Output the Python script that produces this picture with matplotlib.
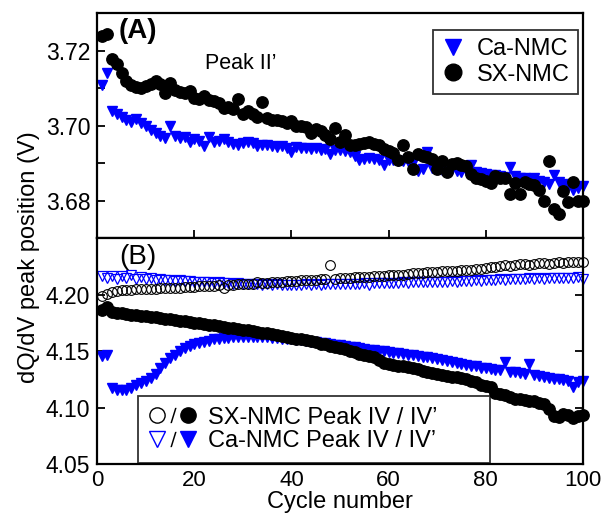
import matplotlib
matplotlib.use("Agg")
import matplotlib.pyplot as plt
from matplotlib.lines import Line2D
from matplotlib.legend_handler import HandlerTuple

plt.rcParams['font.family'] = ['Liberation Sans', 'DejaVu Sans']

cycles = list(range(1, 101))

# Panel A: Peak II'
sx_peak2 = [
    3.7240, 3.7245, 3.7178, 3.7165, 3.7140, 3.7118, 3.7108, 3.7103, 3.7100, 3.7106,
    3.7112, 3.7118, 3.7110, 3.7088, 3.7114, 3.7095, 3.7090, 3.7086, 3.7092, 3.7075,
    3.7072, 3.7080, 3.7068, 3.7066, 3.7060, 3.7047, 3.7050, 3.7045, 3.7070, 3.7030,
    3.7038, 3.7030, 3.7024, 3.7064, 3.7020, 3.7016, 3.7014, 3.7012, 3.7008, 3.7012,
    3.7000, 3.6998, 3.6996, 3.6980, 3.6990, 3.6985, 3.6975, 3.6965, 3.6995, 3.6958,
    3.6976, 3.6948, 3.6950, 3.6952, 3.6955, 3.6956, 3.6952, 3.6950, 3.6938, 3.6932,
    3.6928, 3.6908, 3.6950, 3.6916, 3.6886, 3.6926, 3.6920, 3.6916, 3.6911, 3.6886,
    3.6906, 3.6878, 3.6897, 3.6902, 3.6896, 3.6893, 3.6872, 3.6860, 3.6858, 3.6852,
    3.6848, 3.6866, 3.6860, 3.6862, 3.6818, 3.6848, 3.6818, 3.6849, 3.6846, 3.6843,
    3.6828, 3.6800, 3.6907, 3.6778, 3.6764, 3.6827, 3.6796, 3.6849, 3.6800, 3.6800]

ca_peak2 = [
    3.7108, 3.7141, 3.7040, 3.7032, 3.7022, 3.7016, 3.7009, 3.7018, 3.7008, 3.6998,
    3.6989, 3.6980, 3.6973, 3.6968, 3.7000, 3.6973, 3.6968, 3.6969, 3.6956, 3.6964,
    3.6960, 3.6945, 3.6969, 3.6958, 3.6960, 3.6964, 3.6958, 3.6952, 3.6950, 3.6954,
    3.6957, 3.6955, 3.6945, 3.6950, 3.6948, 3.6946, 3.6944, 3.6945, 3.6940, 3.6930,
    3.6944, 3.6942, 3.6940, 3.6938, 3.6941, 3.6936, 3.6938, 3.6926, 3.6936, 3.6935,
    3.6932, 3.6930, 3.6920, 3.6910, 3.6912, 3.6914, 3.6912, 3.6910, 3.6895, 3.6908,
    3.6910, 3.6907, 3.6905, 3.6906, 3.6900, 3.6880, 3.6886, 3.6930, 3.6888, 3.6885,
    3.6882, 3.6880, 3.6884, 3.6880, 3.6878, 3.6882, 3.6895, 3.6878, 3.6874, 3.6872,
    3.6870, 3.6868, 3.6866, 3.6864, 3.6890, 3.6866, 3.6860, 3.6862, 3.6858, 3.6860,
    3.6852, 3.6850, 3.6846, 3.6868, 3.6850, 3.6845, 3.6840, 3.6830, 3.6835, 3.6840]

# Panel B: Peak IV (open) and IV' (filled)
sx_peak4 = [
    4.1990, 4.2010, 4.2025, 4.2035, 4.2040, 4.2042, 4.2045, 4.2048, 4.2050, 4.2052,
    4.2054, 4.2056, 4.2058, 4.2060, 4.2062, 4.2063, 4.2065, 4.2068, 4.2070, 4.2072,
    4.2075, 4.2077, 4.2080, 4.2082, 4.2084, 4.2060, 4.2088, 4.2090, 4.2093, 4.2095,
    4.2098, 4.2100, 4.2110, 4.2105, 4.2108, 4.2112, 4.2115, 4.2117, 4.2120, 4.2122,
    4.2125, 4.2128, 4.2130, 4.2132, 4.2135, 4.2138, 4.2140, 4.2265, 4.2145, 4.2148,
    4.2150, 4.2152, 4.2155, 4.2160, 4.2158, 4.2162, 4.2165, 4.2168, 4.2170, 4.2172,
    4.2175, 4.2178, 4.2180, 4.2185, 4.2190, 4.2195, 4.2198, 4.2200, 4.2202, 4.2205,
    4.2208, 4.2210, 4.2212, 4.2215, 4.2218, 4.2222, 4.2225, 4.2228, 4.2232, 4.2238,
    4.2245, 4.2250, 4.2255, 4.2262, 4.2258, 4.2265, 4.2270, 4.2275, 4.2268, 4.2278,
    4.2285, 4.2280, 4.2275, 4.2285, 4.2290, 4.2280, 4.2292, 4.2295, 4.2290, 4.2292]

ca_peak4 = [
    4.2165, 4.2150, 4.2170, 4.2140, 4.2165, 4.2150, 4.2175, 4.2145, 4.2160, 4.2140,
    4.2150, 4.2135, 4.2145, 4.2130, 4.2135, 4.2125, 4.2130, 4.2120, 4.2122, 4.2115,
    4.2118, 4.2110, 4.2112, 4.2108, 4.2110, 4.2105, 4.2108, 4.2100, 4.2105, 4.2098,
    4.2100, 4.2095, 4.2098, 4.2092, 4.2095, 4.2090, 4.2094, 4.2090, 4.2092, 4.2088,
    4.2092, 4.2090, 4.2094, 4.2090, 4.2095, 4.2092, 4.2096, 4.2094, 4.2098, 4.2095,
    4.2098, 4.2096, 4.2100, 4.2098, 4.2102, 4.2085, 4.2104, 4.2102, 4.2106, 4.2105,
    4.2108, 4.2106, 4.2110, 4.2108, 4.2112, 4.2110, 4.2114, 4.2112, 4.2116, 4.2114,
    4.2118, 4.2116, 4.2120, 4.2118, 4.2122, 4.2120, 4.2124, 4.2128, 4.2126, 4.2130,
    4.2135, 4.2132, 4.2140, 4.2135, 4.2142, 4.2138, 4.2145, 4.2140, 4.2146, 4.2142,
    4.2148, 4.2145, 4.2150, 4.2146, 4.2152, 4.2148, 4.2154, 4.2150, 4.2156, 4.2145]

sx_peak4p = [
    4.1870, 4.1895, 4.1850, 4.1840, 4.1835, 4.1830, 4.1825, 4.1820, 4.1815, 4.1810,
    4.1805, 4.1800, 4.1795, 4.1790, 4.1784, 4.1778, 4.1772, 4.1766, 4.1760, 4.1754,
    4.1748, 4.1742, 4.1736, 4.1730, 4.1722, 4.1716, 4.1710, 4.1704, 4.1698, 4.1692,
    4.1686, 4.1680, 4.1672, 4.1666, 4.1658, 4.1650, 4.1644, 4.1636, 4.1628, 4.1620,
    4.1612, 4.1605, 4.1598, 4.1590, 4.1580, 4.1568, 4.1560, 4.1550, 4.1540, 4.1530,
    4.1518, 4.1505, 4.1490, 4.1478, 4.1470, 4.1462, 4.1450, 4.1420, 4.1400, 4.1385,
    4.1378, 4.1372, 4.1365, 4.1362, 4.1355, 4.1340, 4.1325, 4.1320, 4.1305, 4.1298,
    4.1290, 4.1282, 4.1275, 4.1268, 4.1262, 4.1250, 4.1240, 4.1225, 4.1205, 4.1195,
    4.1185, 4.1130, 4.1125, 4.1110, 4.1095, 4.1080, 4.1075, 4.1070, 4.1062, 4.1055,
    4.1045, 4.1030, 4.0985, 4.0925, 4.0915, 4.0945, 4.0935, 4.0905, 4.0925, 4.0935]

ca_peak4p = [
    4.1462, 4.1470, 4.1170, 4.1160, 4.1155, 4.1160, 4.1175, 4.1200, 4.1215, 4.1240,
    4.1260, 4.1300, 4.1350, 4.1400, 4.1440, 4.1470, 4.1500, 4.1525, 4.1545, 4.1560,
    4.1575, 4.1585, 4.1595, 4.1605, 4.1610, 4.1615, 4.1620, 4.1625, 4.1628, 4.1630,
    4.1630, 4.1628, 4.1630, 4.1625, 4.1622, 4.1618, 4.1615, 4.1612, 4.1608, 4.1605,
    4.1600, 4.1596, 4.1590, 4.1585, 4.1580, 4.1575, 4.1570, 4.1565, 4.1558, 4.1552,
    4.1545, 4.1540, 4.1535, 4.1528, 4.1522, 4.1515, 4.1510, 4.1505, 4.1500, 4.1494,
    4.1488, 4.1482, 4.1476, 4.1470, 4.1465, 4.1458, 4.1452, 4.1445, 4.1440, 4.1430,
    4.1420, 4.1412, 4.1405, 4.1395, 4.1388, 4.1380, 4.1372, 4.1365, 4.1355, 4.1348,
    4.1340, 4.1335, 4.1330, 4.1405, 4.1320, 4.1312, 4.1305, 4.1300, 4.1390, 4.1290,
    4.1280, 4.1272, 4.1265, 4.1258, 4.1250, 4.1245, 4.1238, 4.1180, 4.1230, 4.1235]

BLUE = '#0000ff'
fig = plt.figure(figsize=(6.04, 5.15), dpi=100)
ax1 = fig.add_axes([0.161, 0.5369, 0.804, 0.4379])
ax2 = fig.add_axes([0.161, 0.0990, 0.804, 0.4379])

# --- Panel A
ax1.plot(cycles, ca_peak2, linestyle='none', marker='v', ms=7.5, color=BLUE, mec=BLUE, clip_on=False)
ax1.plot(cycles, sx_peak2, linestyle='none', marker='o', ms=8.2, color='black', clip_on=False)
ax1.set_xlim(0, 100)
ax1.set_ylim(3.67, 3.73)
ax1.set_yticks([3.68, 3.70, 3.72])
ax1.set_yticklabels(['3.68', '3.70', '3.72'])
ax1.set_yticks([3.69, 3.71], minor=True)
ax1.set_xticks([20, 40, 60, 80])
ax1.tick_params(axis='x', which='both', direction='in', length=6, width=1.3,
                labelbottom=False, top=False)
ax1.tick_params(axis='y', which='both', direction='in', length=6, width=1.3,
                labelsize=16.5, pad=5, right=False)
ax1.text(0.045, 0.92, '(A)', transform=ax1.transAxes, fontsize=20,
         fontweight='bold', va='center', ha='left')
ax1.text(0.222, 0.778, 'Peak II\u2019', transform=ax1.transAxes, fontsize=15.5,
         va='center', ha='left')
h_ca = Line2D([], [], linestyle='none', marker='v', ms=12, color=BLUE)
h_sx = Line2D([], [], linestyle='none', marker='o', ms=12, color='black')
leg1 = ax1.legend([h_ca, h_sx], ['Ca-NMC', 'SX-NMC'], loc='upper right',
                  bbox_to_anchor=(0.990, 0.925), borderaxespad=0, fontsize=17,
                  frameon=True, fancybox=False, edgecolor='black',
                  handlelength=1.0, handletextpad=0.5, labelspacing=0.15,
                  borderpad=0.35)
leg1.get_frame().set_linewidth(1.3)

# --- Panel B
ax2.plot(cycles, ca_peak4, linestyle='none', marker='v', ms=7, mfc='none', mec=BLUE,
         mew=0.9, clip_on=False)
ax2.plot(cycles, sx_peak4, linestyle='none', marker='o', ms=7, mfc='none', mec='black',
         mew=0.8, clip_on=False)
ax2.plot(cycles, ca_peak4p, linestyle='none', marker='v', ms=7.5, color=BLUE, clip_on=False)
ax2.plot(cycles, sx_peak4p, linestyle='none', marker='o', ms=8.2, color='black', clip_on=False)
ax2.set_xlim(0, 100)
ax2.set_ylim(4.05, 4.25)
ax2.set_yticks([4.05, 4.10, 4.15, 4.20])
ax2.set_yticklabels(['4.05', '4.10', '4.15', '4.20'])
ax2.set_xticks([0, 20, 40, 60, 80, 100])
ax2.tick_params(axis='x', direction='in', length=0, labelsize=16, pad=4)
ax2.tick_params(axis='y', direction='in', length=6, width=1.3, labelsize=16.5,
                pad=5, right=True)
ax2.text(0.045, 0.92, '(B)', transform=ax2.transAxes, fontsize=20,
         va='center', ha='left')
ax2.set_xlabel('Cycle number', fontsize=17, labelpad=0)

slash = Line2D([], [], linestyle='none', marker='$/$', ms=11, color='black', mew=0)
o_open = Line2D([], [], linestyle='none', marker='o', ms=11, mfc='none', mec='black', mew=1.0)
o_fill = Line2D([], [], linestyle='none', marker='o', ms=11, color='black')
t_open = Line2D([], [], linestyle='none', marker='v', ms=11, mfc='none', mec=BLUE, mew=1.0)
t_fill = Line2D([], [], linestyle='none', marker='v', ms=11, color=BLUE)
leg2 = ax2.legend([(o_open, slash, o_fill), (t_open, slash, t_fill)],
                  ['SX-NMC Peak IV / IV\u2019', 'Ca-NMC Peak IV / IV\u2019'],
                  handler_map={tuple: HandlerTuple(ndivide=None, pad=0.0)},
                  loc='lower left', bbox_to_anchor=(0.0846, 0.004, 0.7243, 0.30),
                  mode='expand', borderaxespad=0, fontsize=17, frameon=True,
                  fancybox=False, edgecolor='black', handlelength=2.0,
                  handletextpad=0.5, labelspacing=0.08, borderpad=0.45)
leg2.get_frame().set_linewidth(1.3)
leg2.set_zorder(5)

for ax in (ax1, ax2):
    for s in ax.spines.values():
        s.set_linewidth(1.6)

fig.text(0.048, 0.50, 'dQ/dV peak position (V)', rotation=90, fontsize=17,
         va='center', ha='center')

fig.savefig('out.png', dpi=100)
